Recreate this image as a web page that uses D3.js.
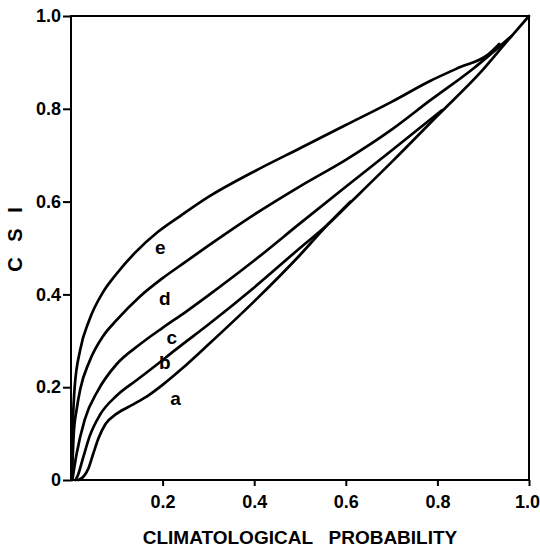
<!DOCTYPE html>
<html>
<head>
<meta charset="utf-8">
<script src="https://cdn.jsdelivr.net/npm/d3@7"></script>
<style>
  body { margin: 0; background: #fff; }
  text { font-family: "Liberation Sans", Arial, sans-serif; font-weight: bold; fill: #000; }
</style>
</head>
<body>
<div class="chart"></div>
<script>
// curve values (climatological probability, CSI)
var aX = [0.016, 0.027, 0.038, 0.048, 0.06, 0.075, 0.1, 0.136, 0.17, 0.2, 0.24, 0.3, 0.4, 0.5, 0.56, 0.61];
var aY = [0, 0.007, 0.025, 0.055, 0.09, 0.12, 0.143, 0.163, 0.183, 0.205, 0.238, 0.292, 0.385, 0.485, 0.55, 0.6];
var bX = [0.01, 0.015, 0.027, 0.041, 0.063, 0.1, 0.143, 0.18, 0.23, 0.3, 0.4, 0.5, 0.56, 0.61, 0.7, 0.8, 0.9, 0.95, 1.0];
var bY = [0, 0.01, 0.05, 0.095, 0.14, 0.182, 0.215, 0.243, 0.282, 0.335, 0.415, 0.5, 0.55, 0.598, 0.685, 0.785, 0.885, 0.943, 1.0];
var cX = [0.003, 0.012, 0.03, 0.06, 0.1, 0.15, 0.2, 0.25, 0.3, 0.4, 0.5, 0.6, 0.7, 0.81];
var cY = [0, 0.055, 0.13, 0.195, 0.25, 0.292, 0.328, 0.362, 0.398, 0.473, 0.553, 0.632, 0.71, 0.797];
var dX = [0.002, 0.006, 0.012, 0.02, 0.04, 0.07, 0.1, 0.15, 0.2, 0.25, 0.3, 0.4, 0.5, 0.6, 0.7, 0.784, 0.88, 0.962];
var dY = [0, 0.1, 0.15, 0.195, 0.255, 0.31, 0.345, 0.395, 0.435, 0.47, 0.505, 0.572, 0.633, 0.69, 0.755, 0.818, 0.888, 0.957];
var eX = [0.001, 0.004, 0.008, 0.02, 0.04, 0.07, 0.1, 0.14, 0.19, 0.24, 0.3, 0.4, 0.5, 0.6, 0.7, 0.784, 0.85, 0.908, 0.935];
var eY = [0, 0.12, 0.2, 0.28, 0.345, 0.405, 0.445, 0.49, 0.535, 0.57, 0.61, 0.665, 0.715, 0.765, 0.815, 0.86, 0.89, 0.915, 0.94];

var curveNames = ["a", "b", "c", "d", "e"];
var labelX = [0.228, 0.205, 0.22, 0.205, 0.195];
var labelY = [0.177, 0.253, 0.308, 0.392, 0.502];

var xTicks = [0.2, 0.4, 0.6, 0.8, 1.0];
var yTicks = [0, 0.2, 0.4, 0.6, 0.8, 1.0];

var svgWidth = 540;
var svgHeight = 549;

var svg = d3.select(".chart")
            .append("svg")
            .attr("width", svgWidth)
            .attr("height", svgHeight);

var x = d3.scaleLinear().domain([0, 1]).range([71, 529]);
var y = d3.scaleLinear().domain([0, 1]).range([480, 16]);

var curves = [[aX, aY], [bX, bY], [cX, cY], [dX, dY], [eX, eY]].map(function(c) {
  return c[0].map(function(v, i) { return [v, c[1][i]]; });
});

// frame
svg.append("rect")
    .attr("x", x(0))
    .attr("y", y(1))
    .attr("width", x(1) - x(0))
    .attr("height", y(0) - y(1))
    .attr("fill", "none")
    .attr("stroke", "#000")
    .attr("stroke-width", 2);

var xAxis = svg.append("g")
    .attr("transform", "translate(0," + y(0) + ")")
    .call(d3.axisBottom(x).tickValues(xTicks).tickSize(6).tickPadding(9).tickFormat(d3.format(".1f")));

var yAxis = svg.append("g")
    .attr("transform", "translate(" + x(0) + ",0)")
    .call(d3.axisLeft(y).tickValues(yTicks).tickSize(8).tickPadding(2)
      .tickFormat(function(d) { return d === 0 ? "0" : d3.format(".1f")(d); }));

[xAxis, yAxis].forEach(function(g) {
  g.select(".domain").remove();
  g.selectAll("line").attr("stroke", "#000").attr("stroke-width", 2);
  g.selectAll("text")
    .style("font-family", "'Liberation Sans', Arial, sans-serif")
    .style("font-weight", "bold")
    .style("font-size", "18px")
    .attr("fill", "#000");
});
// last x label sits on the page edge
xAxis.selectAll(".tick:last-of-type text").attr("dx", -2);

var line = d3.line()
    .x(function(d) { return x(d[0]); })
    .y(function(d) { return y(d[1]); })
    .curve(d3.curveMonotoneX);

svg.selectAll("path.curve")
    .data(curves)
    .enter()
    .append("path")
    .attr("class", "curve")
    .attr("d", line)
    .attr("fill", "none")
    .attr("stroke", "#000")
    .attr("stroke-width", 2.7)
    .attr("stroke-linecap", "round")
    .attr("stroke-linejoin", "round");

svg.selectAll("text.curve-label")
    .data(curveNames)
    .enter()
    .append("text")
    .attr("class", "curve-label")
    .text(function(d) { return d; })
    .attr("x", function(d, i) { return x(labelX[i]); })
    .attr("y", function(d, i) { return y(labelY[i]); })
    .attr("dy", "0.35em")
    .attr("text-anchor", "middle")
    .style("font-size", "19px");

svg.append("text")
    .text("CLIMATOLOGICAL   PROBABILITY")
    .attr("x", 300)
    .attr("y", 544)
    .attr("text-anchor", "middle")
    .attr("xml:space", "preserve")
    .style("white-space", "pre")
    .style("font-size", "19px");

svg.append("text")
    .text("C S I")
    .attr("transform", "translate(22,237) rotate(-90)")
    .attr("text-anchor", "middle")
    .style("letter-spacing", "5px")
    .style("font-size", "20px");
</script>
</body>
</html>
